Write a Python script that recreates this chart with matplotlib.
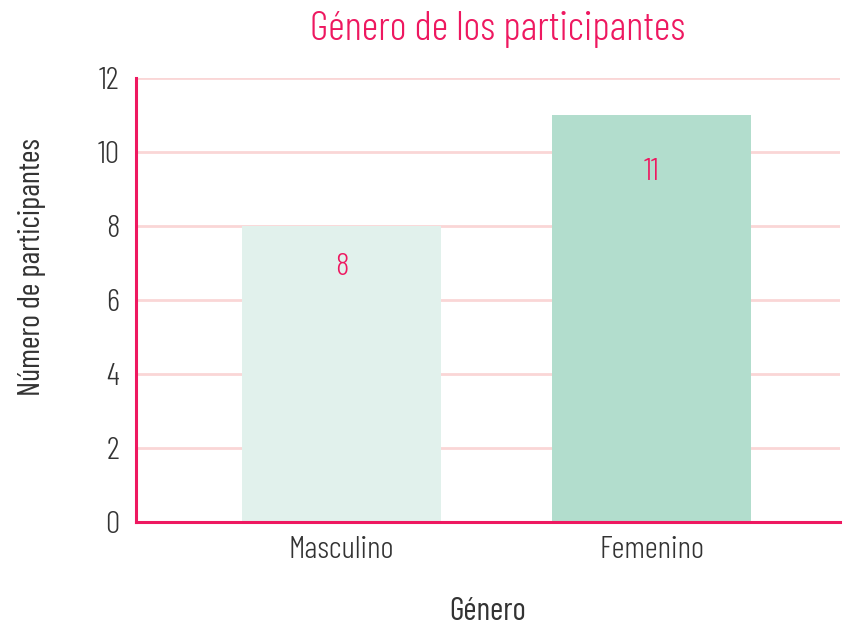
import matplotlib
matplotlib.use("Agg")
import matplotlib.pyplot as plt

# data
generos = ["Masculino", "Femenino"]
participantes = [8, 11]
colores = ["#E1F1EC", "#B2DDCD"]

rosa = "#EE1860"
gris = "#333333"

plt.rcParams['font.family'] = ['Barlow Condensed', 'DejaVu Sans']
plt.rcParams['font.weight'] = 300

fig = plt.figure(figsize=(8.44, 6.27), dpi=100)
ax = fig.add_axes([136 / 844, 105 / 627, 704 / 844, 444 / 627])

x = range(len(generos))
bars = ax.bar(x, participantes, width=0.64, color=colores, zorder=2)

# value labels inside each bar
for b, v in zip(bars, participantes):
    ax.text(b.get_x() + b.get_width() / 2, v * 0.86, str(v), ha="center", va="center",
            color=rosa, fontsize=23, fontweight=300)

ax.set_ylim(0, 12)
ax.set_xlim(-0.663, 1.608)
ax.set_yticks(range(0, 13, 2))
ax.set_xticks(list(x))
ax.set_xticklabels(generos)
ax.tick_params(axis="both", length=0, labelsize=23, labelcolor=gris)
ax.tick_params(axis="y", pad=12)
ax.tick_params(axis="x", pad=10)

ax.yaxis.grid(True, color="#FAD6D6", linewidth=2, zorder=1)
ax.set_axisbelow(True)

for side in ("top", "right"):
    ax.spines[side].set_visible(False)
for side in ("left", "bottom"):
    ax.spines[side].set_color(rosa)
    ax.spines[side].set_linewidth(2.2)
    ax.spines[side].set_zorder(3)

ax.set_xlabel("Género", fontsize=23, color=gris, labelpad=24)
ax.set_ylabel("Número de participantes", fontsize=22, color=gris)
ax.yaxis.set_label_coords(-0.128, 0.574)

fig.text(498 / 844, 1 - 30 / 627, "Género de los participantes", ha="center", va="center",
         color=rosa, fontsize=29.5, fontweight=300)

fig.savefig("out.png", dpi=100)
